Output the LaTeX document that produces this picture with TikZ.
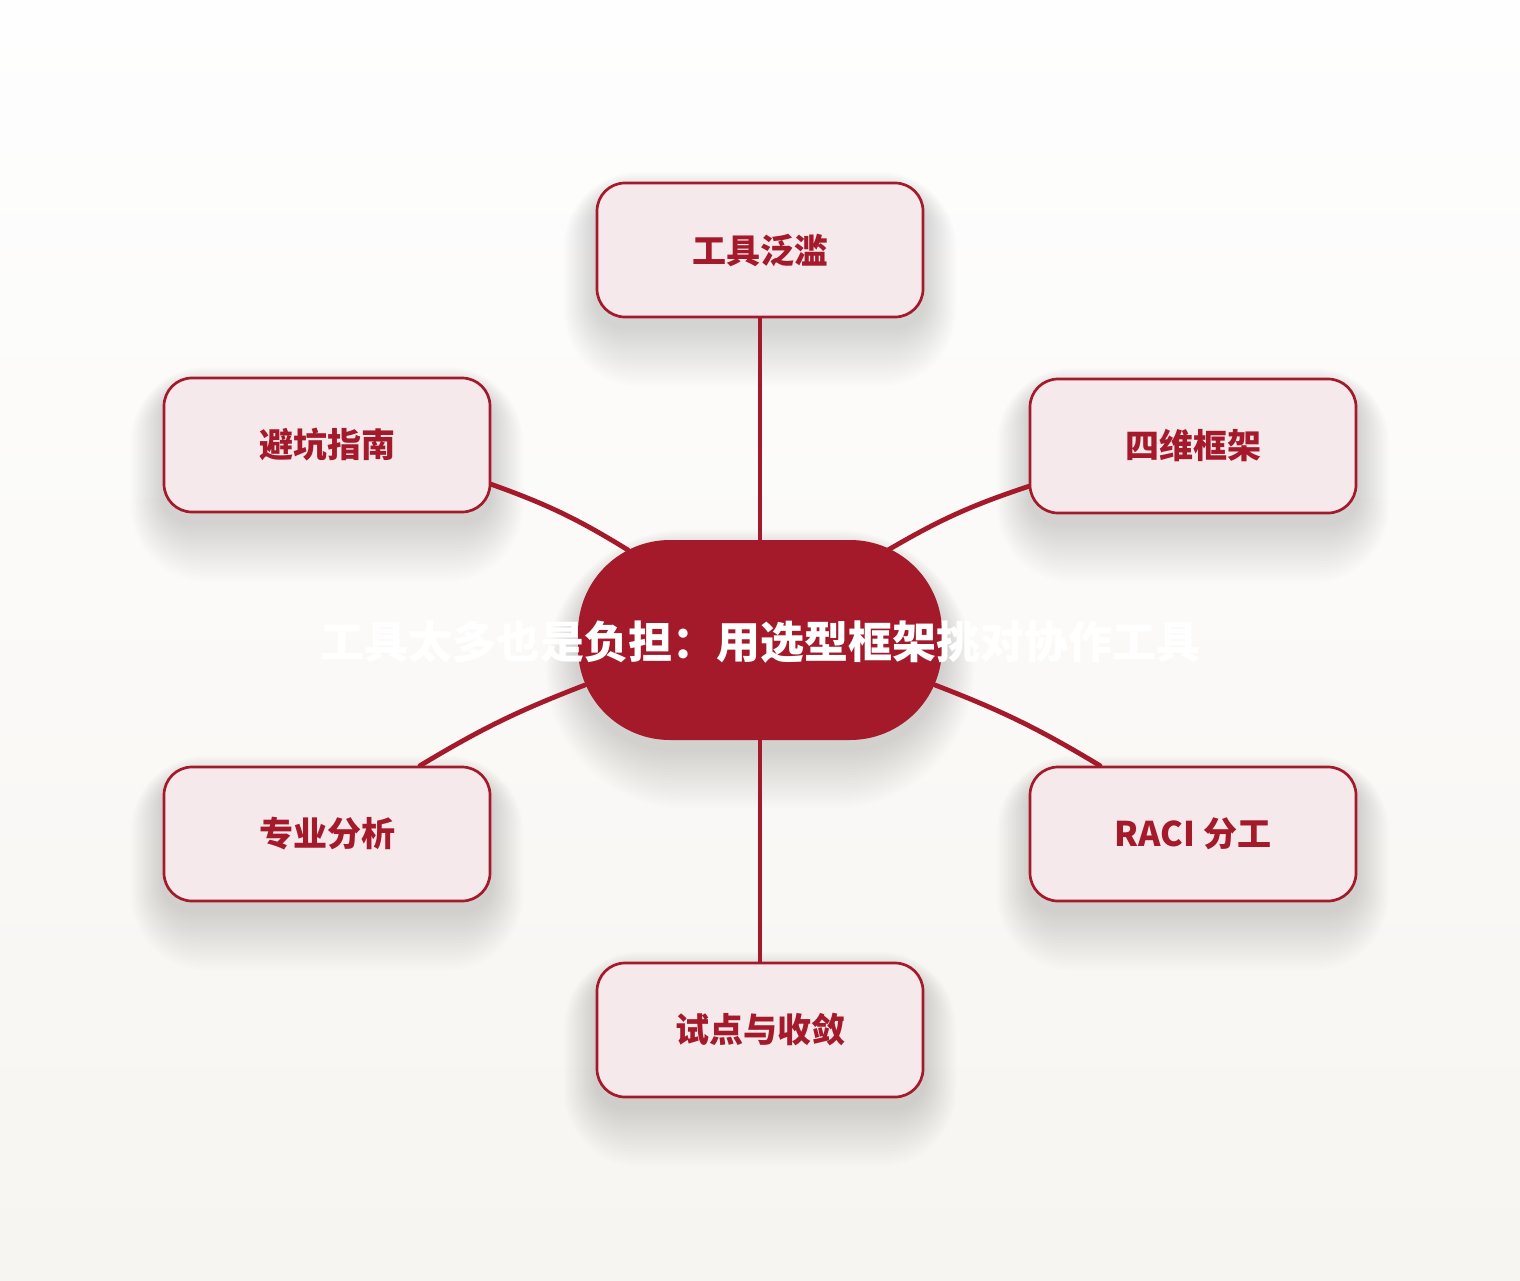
\documentclass[tikz,border=0pt]{standalone}
\usepackage{fontspec}
\newfontfamily\cjk{Noto Sans CJK SC}
\usetikzlibrary{calc,backgrounds}
\pgfdeclarelayer{bg}
\pgfsetlayers{bg,background,main}
\definecolor{mainred}{HTML}{A51A2B}
\definecolor{leaffill}{HTML}{F5E9EC}
\definecolor{bgtop}{HTML}{FEFEFE}
\definecolor{bgbot}{HTML}{F7F5F1}
\tikzset{
  leaf/.style={draw=mainred, line width=1.35pt, fill=leaffill, rounded corners=14pt,
    minimum width=163pt, minimum height=67pt, inner sep=0pt,
    font=\cjk\bfseries\fontsize{17pt}{20pt}\selectfont, text=mainred},
  hub/.style={fill=mainred, rounded corners=46pt,
    minimum width=182pt, minimum height=100pt, inner sep=0pt},
  hubtext/.style={font=\cjk\bfseries\fontsize{22pt}{26pt}\selectfont, text=white, inner sep=0pt},
  link/.style={draw=mainred, line width=2.4pt, line cap=round},
  shadowstep/.style={fill=black, fill opacity=0.0075, draw=none}
}
\begin{document}
\begin{tikzpicture}[x=0.5pt,y=-0.5pt]
\useasboundingbox (0,0) rectangle (1520,1280);
\begin{pgfonlayer}{bg}
\shade[top color=bgtop, bottom color=bgbot] (0,0) rectangle (1520,1280);
\end{pgfonlayer}
\node[hub] (c) at (760,640) {};
\node[leaf] (t)  at (760,250)  {工具泛滥};
\node[leaf] (ul) at (327,445)  {避坑指南};
\node[leaf] (ur) at (1193,446) {四维框架};
\node[leaf] (ll) at (327,834)  {专业分析};
\node[leaf] (lr) at (1193,834) {RACI 分工};
\node[leaf] (b)  at (760,1030) {试点与收敛};
% soft shadows
\begin{scope}[on background layer]
\foreach \n in {t,ul,ur,ll,lr,b}{
  \foreach \k in {1,...,20}{
    \pgfmathsetmacro\rr{14+1.2*\k}
    \pgfmathsetmacro\gs{1.6*\k}
    \pgfmathsetmacro\gt{12-1.1*\k}
    \pgfmathsetmacro\gb{3*\k+8}
    \fill[shadowstep, rounded corners=\rr pt]
      ($(\n.north west)+(-\gs,\gt)$) rectangle ($(\n.south east)+(\gs,\gb)$);
  }
}
\foreach \k in {1,...,20}{
  \pgfmathsetmacro\rr{46+1.2*\k}
  \pgfmathsetmacro\gs{1.6*\k}
  \pgfmathsetmacro\gt{12-1.1*\k}
  \pgfmathsetmacro\gb{3*\k+8}
  \fill[shadowstep, rounded corners=\rr pt]
    ($(c.north west)+(-\gs,\gt)$) rectangle ($(c.south east)+(\gs,\gb)$);
}
\end{scope}
% connector end points
\coordinate (ulEnd) at ($(ul.south east)+(0,-29)$);
\coordinate (urEnd) at ($(ur.south west)+(0,-28)$);
\coordinate (llEnd) at ($(ll.north)+(93,0)$);
\coordinate (lrEnd) at ($(lr.north)+(-93,0)$);
\coordinate (cUL) at ($(c.center)+(-132,-90)$);
\coordinate (cUR) at ($(c.center)+(128,-90)$);
\coordinate (cLL) at ($(c.center)+(-175,45)$);
\coordinate (cLR) at ($(c.center)+(175,45)$);
\draw[link] (t.south) -- (c.north);
\draw[link] (b.north) -- (c.south);
\draw[link] (ulEnd) to[bend left=6] (cUL);
\draw[link] (urEnd) to[bend right=6] (cUR);
\draw[link] (llEnd) to[bend left=5] (cLL);
\draw[link] (lrEnd) to[bend right=5] (cLR);
\node[hubtext] (ctext) at (760,642) {工具太多也是负担：用选型框架挑对协作工具};
\end{tikzpicture}
\end{document}
